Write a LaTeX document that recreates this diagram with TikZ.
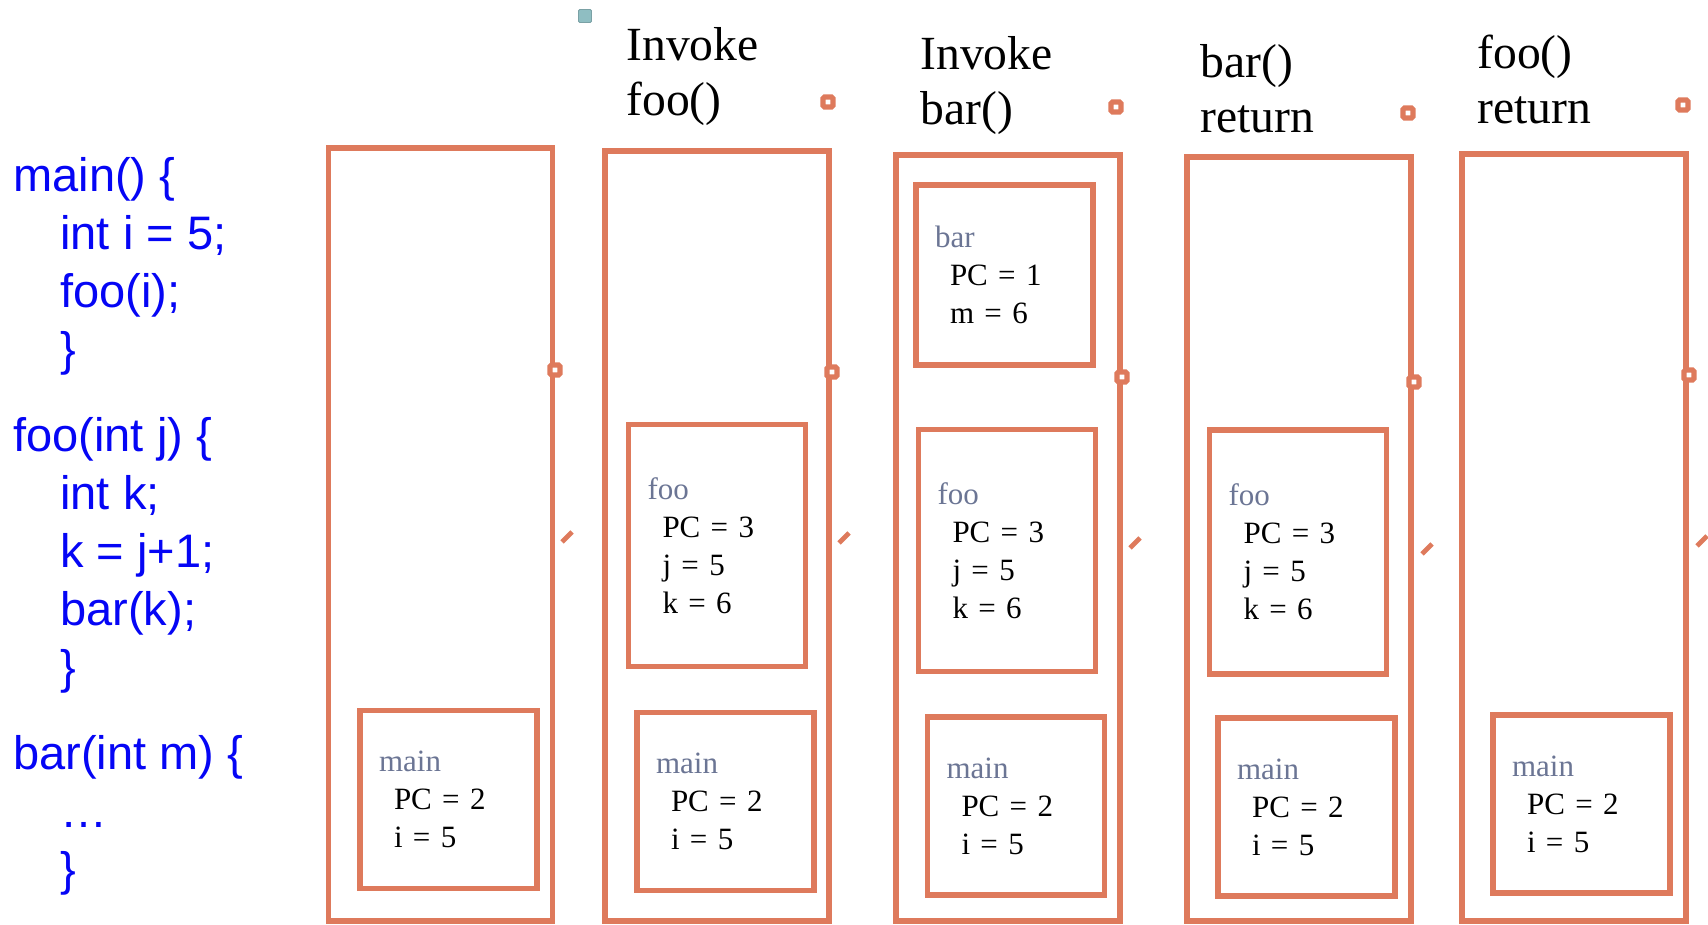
\documentclass[tikz,border=0pt]{standalone}
\usepackage{fontspec}
\setmainfont{Liberation Serif}
\setsansfont{Liberation Sans}
\usepackage{xcolor}
\usetikzlibrary{positioning}

\definecolor{frameorange}{RGB}{222,122,92}
\definecolor{labelgray}{RGB}{107,117,148}
\definecolor{codeblue}{RGB}{5,5,245}
\definecolor{handleteal}{RGB}{143,190,194}

\newcommand{\frlabel}[1]{\textcolor{labelgray}{#1}}
\newcommand{\frline}{\hspace*{7.5pt}}
\newcommand{\srcind}{\hspace*{23.5pt}}

\begin{document}
\begin{tikzpicture}[x=0.5pt, y=-0.5pt,
stack/.style={rectangle, draw=frameorange, line width=2.6pt, minimum width=112pt, minimum height=#1, inner sep=0pt},
frame/.style={rectangle, draw=frameorange, line width=2.6pt, minimum width=88.5pt, minimum height=#1, text width=69.5pt, inner xsep=9.5pt, inner ysep=0pt, align=left, font=\fontsize{15.5pt}{19pt}\selectfont},
title/.style={anchor=north west, inner sep=0pt, align=left, font=\fontsize{23.8pt}{27.5pt}\selectfont},
code/.style={anchor=north west, inner sep=0pt, align=left, text=codeblue, font=\sffamily\fontsize{23.5pt}{29pt}\selectfont},
handle/.style={rectangle, draw=frameorange, fill=white, line width=2.6pt, minimum size=5pt, inner sep=0pt, rounded corners=0.8pt},
tick/.style={frameorange, line width=2.4pt}
]
	\useasboundingbox (0,0) rectangle (1708,925);

	% source code
	\node[code] (mainsrc) at (13,157) {main() \{\\ \srcind int i = 5;\\ \srcind foo(i);\\ \srcind \}};
	\node[code, shift={(0pt,-20.5pt)}] (foosrc) at (mainsrc.south west) {foo(int j) \{\\ \srcind int k;\\ \srcind k = j+1;\\ \srcind bar(k);\\ \srcind \}};
	\node[code, shift={(0pt,-21pt)}] (barsrc) at (foosrc.south west) {bar(int m) \{\\ \srcind …\\ \srcind \}};

	% step titles
	\node[title] (t2) at (626,27) {Invoke\\foo()};
	\node[title] (t3) at (920,36) {Invoke\\bar()};
	\node[title] (t4) at (1200,44) {bar()\\return};
	\node[title] (t5) at (1477,35) {foo()\\return};

	% stacks
	\node[stack=386.5pt] (s1) at (440.5,534.5) {};
	\node[stack=385pt] (s2) at (717,536) {};
	\node[stack=383pt] (s3) at (1008,538) {};
	\node[stack=382pt] (s4) at (1299,539) {};
	\node[stack=383.5pt] (s5) at (1574,537.5) {};

	% frames
	\node[frame=89pt] (main1) at (448.5,799.5) {\frlabel{main}\\ \frline PC = 2\\ \frline i = 5};
	\node[frame=121pt] (foo2) at (717,545.5) {\frlabel{foo}\\ \frline PC = 3\\ \frline j = 5\\ \frline k = 6};
	\node[frame=89pt] (main2) at (725.5,801.5) {\frlabel{main}\\ \frline PC = 2\\ \frline i = 5};
	\node[frame=90pt] (bar3) at (1004.5,275) {\frlabel{bar}\\ \frline PC = 1\\ \frline m = 6};
	\node[frame=121pt] (foo3) at (1007,550.5) {\frlabel{foo}\\ \frline PC = 3\\ \frline j = 5\\ \frline k = 6};
	\node[frame=89pt] (main3) at (1016,806) {\frlabel{main}\\ \frline PC = 2\\ \frline i = 5};
	\node[frame=122pt] (foo4) at (1298,552) {\frlabel{foo}\\ \frline PC = 3\\ \frline j = 5\\ \frline k = 6};
	\node[frame=89pt] (main4) at (1306.5,807) {\frlabel{main}\\ \frline PC = 2\\ \frline i = 5};
	\node[frame=89pt] (main5) at (1581.5,804) {\frlabel{main}\\ \frline PC = 2\\ \frline i = 5};

	% selection handles
	\node[rectangle, fill=handleteal, draw=handleteal!85!black, line width=0.4pt, minimum size=6.5pt, inner sep=0pt, rounded corners=0.6pt] (sel) at (585,16) {};
	\node[handle] (h2) at (828,102) {};
	\node[handle] (h3) at (1116,107) {};
	\node[handle] (h4) at (1408,113) {};
	\node[handle] (h5) at (1683,105) {};
	\node[handle] (m1) at (555,370) {};
	\node[handle] (m2) at (832,372) {};
	\node[handle] (m3) at (1122,377) {};
	\node[handle] (m4) at (1414,382) {};
	\node[handle] (m5) at (1689,375) {};
	\draw[tick] (562,542) -- (572,532);
	\draw[tick] (839,543) -- (849,533);
	\draw[tick] (1130,548) -- (1140,538);
	\draw[tick] (1422,554) -- (1432,544);
	\draw[tick] (1697,546) -- (1707,536);
\end{tikzpicture}
\end{document}
